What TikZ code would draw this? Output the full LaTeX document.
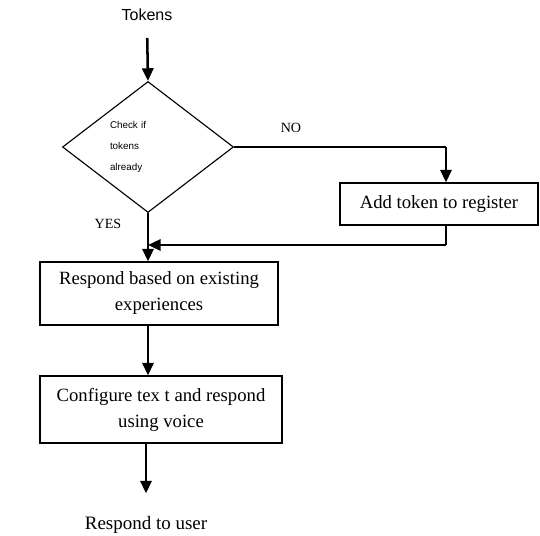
\documentclass[tikz,border=0pt]{standalone}
\usepackage{fontspec}
\setmainfont{Liberation Serif}
\setsansfont{Liberation Sans}
\usetikzlibrary{arrows.meta,calc,positioning,shapes.geometric}

\begin{document}
\begin{tikzpicture}[
    box/.style={draw, line width=0.8pt, align=center, inner sep=0pt,
        font=\fontsize{13.3}{18.5}\selectfont},
    decision/.style={draw, diamond, line width=0.8pt, inner sep=0pt},
    flow/.style={line width=1.8pt, -{Triangle[length=9pt,width=8pt]}},
    thin line/.style={line width=0.8pt},
    tag/.style={font=\fontsize{10}{12}\selectfont}
]
    \useasboundingbox (0,0) rectangle (13.5,13.4);
    % Input and decision
    \node[font=\sffamily\fontsize{11.4}{13}\selectfont] (tokens) at (3.675,13.025) {Tokens};
    \node[decision, minimum width=4.275cm, minimum height=3.275cm,
        text width=1.9cm, align=left, font=\sffamily\fontsize{7}{15}\selectfont]
        (check) at (3.7,9.725) {Check if\\tokens\\already};
    \node[tag] (no) at (7.275,10.2) {NO};
    \node[tag] (yes) at (2.7,7.8) {YES};
    % Boxes
    \node[box, minimum width=4.95cm, minimum height=1.05cm] (add) at (10.975,8.3) {Add token to register};
    \node[box, minimum width=5.95cm, minimum height=1.575cm] (respond) at (3.975,6.0625) {Respond based on existing\\experiences};
    \node[box, minimum width=6.05cm, minimum height=1.675cm] (configure) at (4.025,3.1625) {Configure tex t and respond\\using voice};
    \node[font=\fontsize{13.5}{15}\selectfont] (user) at (3.65,0.275) {Respond to user};
    % Turning points of the NO branch
    \coordinate (noturn) at (11.15,9.725);
    \coordinate (merge) at (11.15,7.275);
    % Connectors
    \draw[flow, shorten <=0.3cm] (tokens.south) -- (check.north);
    \draw[thin line] (check.east) -- (noturn);
    \draw[flow] (noturn) -- (noturn |- add.north);
    \draw[thin line] (noturn |- add.south) -- (merge);
    \draw[flow] (merge) -- (merge -| check);
    \draw[flow] (check.south) -- (check.south |- respond.north);
    \draw[flow] (respond.south -| check) -- (configure.north -| check);
    \draw[flow, shorten >=0.45cm] (configure.south -| user) -- (user.north);
\end{tikzpicture}
\end{document}
